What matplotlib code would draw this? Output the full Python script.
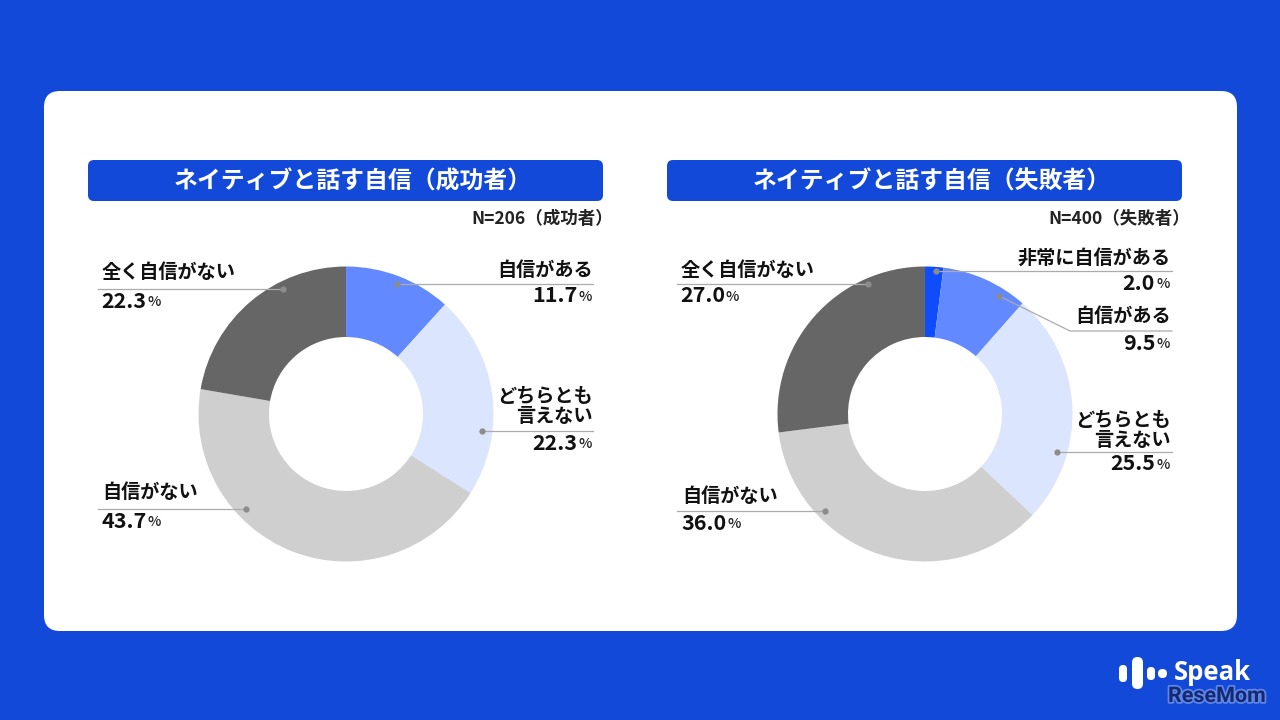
import matplotlib
matplotlib.use('Agg')
import matplotlib.pyplot as plt
import matplotlib.patheffects as pe
from matplotlib.patches import FancyBboxPatch

plt.rcParams['font.family'] = ['Noto Sans CJK JP', 'DejaVu Sans']

# data
categories_left = ['自信がある', 'どちらとも\n言えない', '自信がない', '全く自信がない']
values_left = [11.7, 22.3, 43.7, 22.3]
colors_left = ['#6289FF', '#DCE5FE', '#CFCFCF', '#666666']

categories_right = ['非常に自信がある', '自信がある', 'どちらとも\n言えない', '自信がない', '全く自信がない']
values_right = [2.0, 9.5, 25.5, 36.0, 27.0]
colors_right = ['#0F4CFB', '#6289FF', '#DCE5FE', '#CFCFCF', '#666666']

title_left = 'ネイティブと話す自信（成功者）'
title_right = 'ネイティブと話す自信（失敗者）'
n_left = 'N=206（成功者）'
n_right = 'N=400（失敗者）'

BLUE = '#1249D8'
H = 720

# label layout: side, text x, label centre y, line y, line end x, elbow x, dot x, dot y
layout_left = [
    ('r', 592, 268, 284, 593, 397, 397, 284),
    ('r', 592, 404.5, 431, 593, 482, 482, 431),
    ('l', 102, 491, 509, 98, 246, 246, 509),
    ('l', 102, 271, 289, 98, 283, 283, 289),
]
layout_right = [
    ('r', 1170, 256, 271, 1172, 936, 936, 271),
    ('r', 1170, 315, 331, 1172, 1070, 999, 296),
    ('r', 1170, 428.5, 452, 1172, 1057, 1057, 452),
    ('l', 682, 495, 511, 677, 825, 825, 511),
    ('l', 681, 268, 284, 677, 868, 868, 284),
]


def rbox(ax, x0, y0, x1, y1, r, color, z=1):
    # pixel coords from the top left
    ax.add_patch(FancyBboxPatch((x0 + r, H - y1 + r), x1 - x0 - 2 * r, y1 - y0 - 2 * r,
                                boxstyle=f'round,pad={r},rounding_size={r}',
                                fc=color, ec='none', zorder=z))


def draw_donut(ax, cx, values, colors):
    ax.pie(values, colors=colors, center=(cx, H - 414), radius=147.5, startangle=90,
           counterclock=False, normalize=True, frame=False,
           wedgeprops=dict(width=70.5, linewidth=0, zorder=2))


def draw_labels(ax, categories, values, layout):
    for cat, val, (side, tx, cy, ly, lx, ex, dx, dy) in zip(categories, values, layout):
        ax.plot([lx, ex, dx], [H - ly, H - ly, H - dy], color='#ABABAB', lw=0.9, zorder=3)
        ax.plot([dx], [H - dy], 'o', color='#8C8C8C', ms=4.5, mew=0, zorder=4)

        num = f'{val:.1f}'
        if side == 'r':
            ax.text(tx + 1, H - (cy + 2), cat, ha='right', va='center', fontsize=13.8,
                    fontweight='bold', color='#111111', linespacing=1.1, zorder=5)
            ax.text(tx - 15, H - (ly + 12), num, ha='right', va='center', fontsize=15.5,
                    fontweight='bold', color='#111111', zorder=5)
            ax.text(tx, H - (ly + 13), '%', ha='right', va='center', fontsize=10.3,
                    fontweight='medium', color='#222222', zorder=5)
        else:
            ax.text(tx, H - (cy + 2), cat, ha='left', va='center', fontsize=13.8,
                    fontweight='bold', color='#111111', linespacing=1.1, zorder=5)
            ax.text(tx - 1, H - (ly + 12), num, ha='left', va='center', fontsize=15.5,
                    fontweight='bold', color='#111111', zorder=5)
            ax.text(tx + 45, H - (ly + 13), '%', ha='left', va='center', fontsize=10.3,
                    fontweight='medium', color='#222222', zorder=5)


fig = plt.figure(figsize=(12.8, 7.2), dpi=100, facecolor=BLUE)
ax = fig.add_axes([0, 0, 1, 1])

draw_donut(ax, 346, values_left, colors_left)
draw_donut(ax, 925, values_right, colors_right)

ax.set_xlim(0, 1280)
ax.set_ylim(0, H)
ax.set_aspect('auto')
ax.axis('off')

# white card and header bars
rbox(ax, 44, 91, 1237, 631, 16, 'white')
rbox(ax, 88, 160, 603, 201, 6, BLUE)
rbox(ax, 667, 160, 1182, 201, 6, BLUE)

ax.text(352.5, H - 182, title_left, ha='center', va='center', fontsize=17.2, fontweight='bold',
        color='white', zorder=5)
ax.text(931.5, H - 182, title_right, ha='center', va='center', fontsize=17.2, fontweight='bold',
        color='white', zorder=5)
ax.text(613, H - 219, n_left, ha='right', va='center', fontsize=12.6, fontweight='bold',
        color='#222222', zorder=5)
ax.text(1190, H - 219, n_right, ha='right', va='center', fontsize=12.6, fontweight='bold',
        color='#222222', zorder=5)

draw_labels(ax, categories_left, values_left, layout_left)
draw_labels(ax, categories_right, values_right, layout_right)

# logos, bottom right
for x0, x1, y0, y1 in [(1119, 1127, 665, 682), (1132, 1143, 657, 689),
                       (1147, 1155, 667, 680), (1158, 1167, 669, 678)]:
    rbox(ax, x0, y0, x1, y1, min(x1 - x0, y1 - y0) / 2 - 0.01, 'white', z=5)
ax.text(1174, H - 672, 'Speak', ha='left', va='center', fontsize=18.5, fontweight='bold',
        color='white', family='Open Sans', zorder=5)
ax.text(1168, H - 696, 'ReseMom', ha='left', va='center', fontsize=15.5, fontweight='bold',
        color='#14296F', family='Roboto', zorder=5,
        path_effects=[pe.withStroke(linewidth=2.5, foreground='#5F86E8')])

fig.savefig('out.png', dpi=100, facecolor=BLUE)
